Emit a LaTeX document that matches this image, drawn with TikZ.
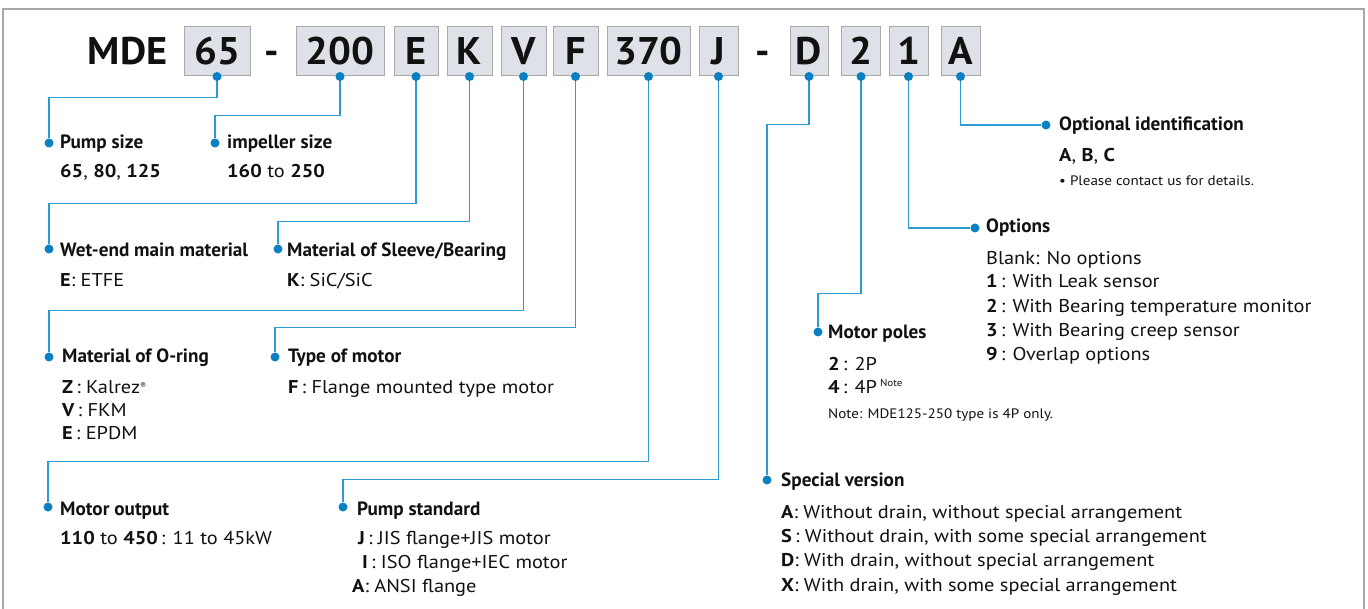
\documentclass[tikz,border=0pt]{standalone}
\usepackage{fontspec}
\setmainfont{PT Sans}
\newfontfamily\valfont{PT Sans}[FakeStretch=1.1]
\newfontfamily\codefont{PT Sans}[FakeStretch=1.05]
\usetikzlibrary{calc}
\pgfdeclarelayer{bg}
\pgfsetlayers{bg,main}
\definecolor{lineblue}{HTML}{2C9AD5}
\definecolor{dotblue}{HTML}{0A80C2}
\definecolor{boxfill}{HTML}{DFE1E9}
\definecolor{boxline}{HTML}{A9A9A9}
\definecolor{framegray}{HTML}{A8A8A8}
\definecolor{txt}{HTML}{111111}
\tikzset{
  codebox/.style={draw=boxline, line width=1pt, fill=boxfill, minimum height=49pt, inner sep=0pt,
    text height=27pt, text depth=0pt, text=txt, font=\codefont\fontsize{38.5}{38}\selectfont\bfseries},
  codetxt/.style={inner sep=0pt, text height=27pt, text depth=0pt, text=txt, font=\codefont\fontsize{38.5}{38}\selectfont\bfseries},
  conn/.style={draw=lineblue, line width=1.3pt},
  dot/.style={circle, fill=dotblue, minimum size=9pt, inner sep=0pt},
  ttl/.style={anchor=base west, inner sep=0pt, text=txt, font=\fontsize{19.2}{22}\selectfont\bfseries},
  val/.style={anchor=base west, inner sep=0pt, text=txt, font=\valfont\fontsize{18.5}{20}\selectfont},
  note/.style={anchor=base west, inner sep=0pt, text=txt, font=\valfont\fontsize{13.7}{15}\selectfont},
}
\begin{document}
\begin{tikzpicture}[x=1pt,y=-1pt]
\useasboundingbox (0,0) rectangle (1368,609);
\draw[framegray, line width=2pt] (3,612) -- (3,9) -- (1364,9) -- (1364,612);

% code line
\node[codetxt] (mde) at (127.5,51.5) {MDE};
\node[codebox, minimum width=66pt] (b65) at (217,51.5) {65};
\node[codetxt] (dash1) at (272,51.5) {-};
\node[codebox, minimum width=88pt] (b200) at (340,51.5) {200};
\node[codebox, minimum width=44pt] (bE) at (416,51.5) {E};
\node[codebox, minimum width=45pt] (bK) at (469.5,51.5) {K};
\node[codebox, minimum width=45pt] (bV) at (523.5,51.5) {V};
\node[codebox, minimum width=45pt] (bF) at (575.5,51.5) {F};
\node[codebox, minimum width=83pt] (b370) at (648.5,51.5) {370};
\node[codebox, minimum width=39pt] (bJ) at (718.5,51.5) {J};
\node[codetxt] (dash2) at (763,51.5) {-};
\node[codebox, minimum width=38pt] (bD) at (809,51.5) {D};
\node[codebox, minimum width=39pt] (b2) at (861,51.5) {2};
\node[codebox, minimum width=39pt] (b1) at (908.5,51.5) {1};
\node[codebox, minimum width=39pt] (bA) at (960.5,51.5) {A};

% label dots
\node[dot] (dPump) at (49,143) {};
\node[dot] (dImp) at (215,143) {};
\node[dot] (dWet) at (49,249) {};
\node[dot] (dSlv) at (278,249) {};
\node[dot] (dOr) at (49,357) {};
\node[dot] (dMot) at (275,357) {};
\node[dot] (dOut) at (48,507) {};
\node[dot] (dStd) at (343,507) {};
\node[dot] (dSpc) at (767,480) {};
\node[dot] (dPol) at (818,332) {};
\node[dot] (dOpt) at (975,228) {};
\node[dot] (dId) at (1046,125) {};

% connectors
\begin{pgfonlayer}{bg}
\draw[conn] (b65.south) -- ++(0,21) -| (dPump);
\draw[conn] (b200.south) -- ++(0,39) -| (dImp);
\draw[conn] (bE.south) -- ++(0,127) -| (dWet);
\draw[conn] (bK.south) -- ++(0,145) -| (dSlv);
\draw[conn] (bV.south) -- ++(0,234) -| (dOr);
\draw[conn] (bF.south) -- ++(0,251) -| (dMot);
\draw[conn] (b370.south) -- ++(0,385) -| (dOut);
\draw[conn] (bJ.south) -- ++(0,403) -| (dStd);
\draw[conn] (bD.south) -- ++(0,48) -| (dSpc);
\draw[conn] (b2.south) -- ++(0,217) -| (dPol);
\draw[conn] (b1.south) |- (dOpt);
\draw[conn] (bA.south) |- (dId);
\end{pgfonlayer}
\foreach \b in {b65,b200,bE,bK,bV,bF,b370,bJ,bD,b2,b1,bA}
  \fill[dotblue] (\b.south) circle (4.5pt);

% texts
\node[ttl] (tPump) at (60,149) {Pump size};
\node[val] (vPump) at (60,178) {\textbf{65}, \textbf{80}, \textbf{125}};
\node[ttl] (tImp) at (227,149) {impeller size};
\node[val] (vImp) at (227,178) {\textbf{160} to \textbf{250}};
\node[ttl] (tWet) at (60,257) {Wet-end main material};
\node[val] (vWet) at (60,287) {\textbf{E}: ETFE};
\node[ttl] (tSlv) at (287,257) {Material of Sleeve/Bearing};
\node[val] (vSlv) at (287,287) {\textbf{K}: SiC/SiC};
\node[ttl] (tOr) at (62,363) {Material of O-ring};
\node[val] (vOr1) at (62,393) {\textbf{Z}\,: Kalrez\raisebox{5pt}{\fontsize{8}{8}\selectfont ®}};
\node[val] (vOr2) at (62,417) {\textbf{V}\,: FKM};
\node[val] (vOr3) at (62,439) {\textbf{E}\,: EPDM};
\node[ttl] (tMot) at (288,363) {Type of motor};
\node[val] (vMot) at (288,393) {\textbf{F}\,: Flange mounted type motor};
\node[ttl] (tOut) at (60,515) {Motor output};
\node[val] (vOut) at (60,544) {\textbf{110} to \textbf{450}\,: 11 to 45kW};
\node[ttl] (tStd) at (357,515) {Pump standard};
\node[val] (vStd1) at (358,544) {\textbf{J}\,: JIS flange+JIS motor};
\node[val] (vStd2) at (362,568) {\textbf{I}\,: ISO flange+IEC motor};
\node[val] (vStd3) at (352,592) {\textbf{A}: ANSI flange};
\node[ttl] (tSpc) at (781,486) {Special version};
\node[val] (vSpc1) at (781,518) {\textbf{A}: Without drain, without special arrangement};
\node[val] (vSpc2) at (781,542) {\textbf{S}\,: Without drain, with some special arrangement};
\node[val] (vSpc3) at (781,566) {\textbf{D}: With drain, without special arrangement};
\node[val] (vSpc4) at (781,591) {\textbf{X}: With drain, with some special arrangement};
\node[ttl] (tPol) at (828,339) {Motor poles};
\node[val] (vPol1) at (828,371) {\textbf{2}\,: 2P};
\node[val] (vPol2) at (828,394) {\textbf{4}\,: 4P\,\raisebox{7pt}{\fontsize{10}{10}\selectfont Note}};
\node[note] (nPol) at (828,418) {Note: MDE125-250 type is 4P only.};
\node[ttl] (tOpt) at (986,233) {Options};
\node[val] (vOpt0) at (986,265) {Blank: No options};
\node[val] (vOpt1) at (986,288) {\textbf{1}\,: With Leak sensor};
\node[val] (vOpt2) at (986,313) {\textbf{2}\,: With Bearing temperature monitor};
\node[val] (vOpt3) at (986,337) {\textbf{3}\,: With Bearing creep sensor};
\node[val] (vOpt9) at (986,361) {\textbf{9}\,: Overlap options};
\node[ttl] (tId) at (1059,131) {Optional identification};
\node[val] (vId) at (1059,162) {\textbf{A}, \textbf{B}, \textbf{C}};
\node[note] (nId) at (1059,186) {\textbullet\ Please contact us for details.};
\end{tikzpicture}
\end{document}
